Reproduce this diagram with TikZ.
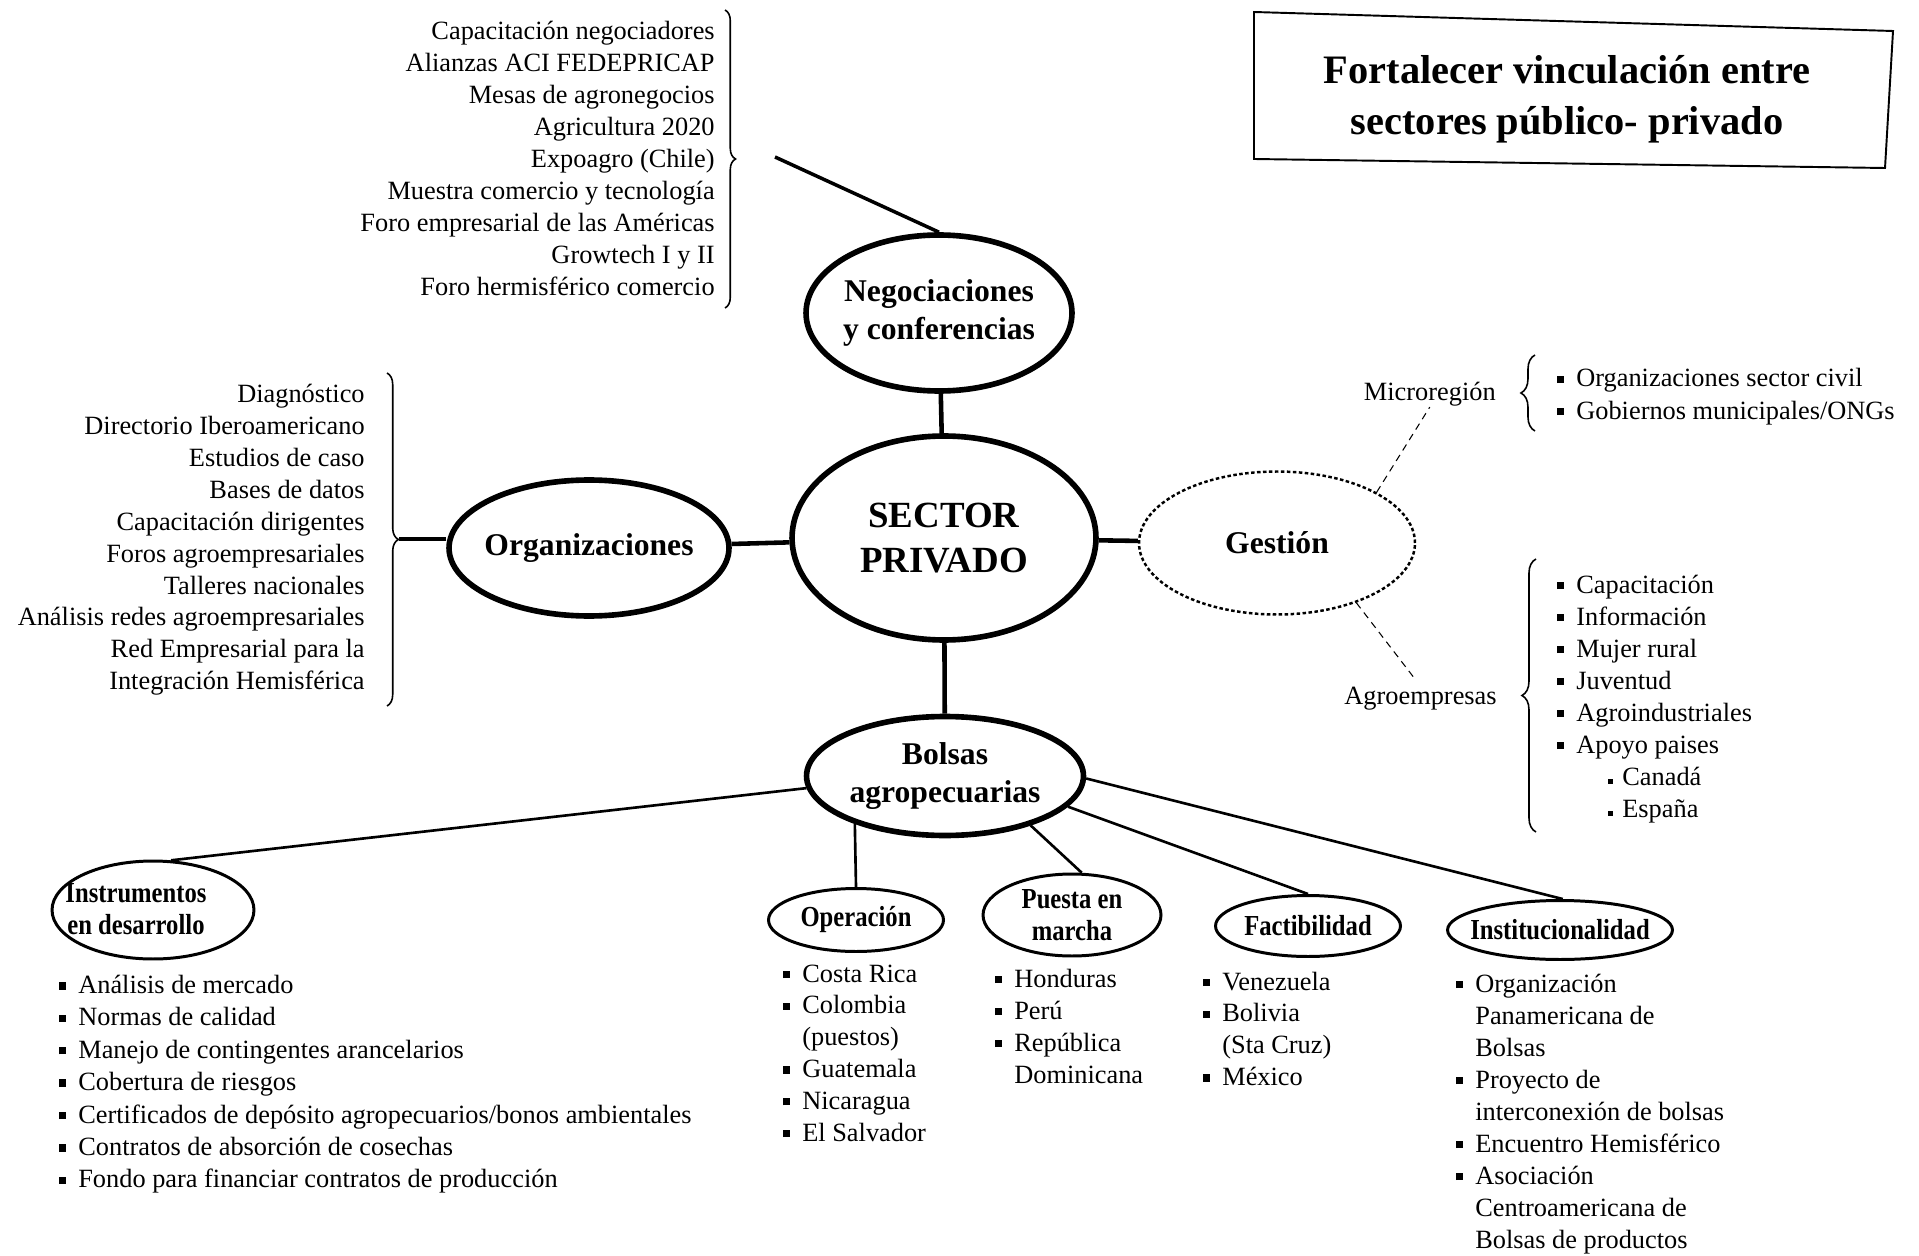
\documentclass[tikz,border=0pt]{standalone}
\usepackage{fontspec}
\setmainfont{Liberation Serif}
\newfontfamily\narrowfont[FakeStretch=0.85]{Liberation Serif}
\usetikzlibrary{shapes.geometric,decorations.pathreplacing}

\newcommand{\blt}{\makebox[10.8pt][l]{\rule[2.2pt]{3.6pt}{4.2pt}}}
\newcommand{\nob}{\hspace*{10.8pt}}
\newcommand{\sbl}{\hspace*{29pt}\makebox[8pt][l]{\rule[0.6pt]{2.4pt}{2.6pt}}}

\begin{document}
\begin{tikzpicture}[x=0.02cm,y=-0.02cm,
  bignode/.style={ellipse,draw,line width=3.2pt,inner sep=-6pt,align=center,
    font=\fontsize{18}{21.6}\selectfont\bfseries},
  subnode/.style={ellipse,draw,line width=1.7pt,inner sep=-8pt,align=center,
    font=\narrowfont\fontsize{16.5}{18.5}\selectfont\bfseries},
  link/.style={line width=2.6pt},
  sublink/.style={line width=1.5pt},
  item/.style={inner sep=0pt,anchor=base west,font=\fontsize{15}{18.2}\selectfont},
  ritem/.style={item,anchor=base east},
  brc/.style={decorate,decoration={brace,amplitude=#1},line width=0.9pt},
  brc/.default=6pt,
  dotline/.style={line width=0.6pt,dash pattern=on 4pt off 3pt}]
\useasboundingbox (0,0) rectangle (1919,1256);

% title
\draw[line width=1.1pt] (1254,12) -- (1893,31) -- (1885,168) -- (1254,159) -- cycle;
\node[align=center,inner sep=0pt,font=\fontsize{23}{29}\selectfont\bfseries] (title)
  at (1567,99) {Fortalecer vinculación entre\\sectores público- privado};

% main ellipses
\node[bignode,minimum width=6.08cm,minimum height=4.08cm,
  font=\fontsize{21}{25.6}\selectfont\bfseries] (sector) at (944,538) {SECTOR\\PRIVADO};
\node[bignode,minimum width=5.32cm,minimum height=3.12cm] (neg) at (939,313)
  {Negociaciones\\y conferencias};
\node[bignode,minimum width=5.6cm,minimum height=2.72cm] (org) at (589,548) {Organizaciones};
\node[bignode,minimum width=5.54cm,minimum height=2.38cm] (bolsas) at (945,776)
  {Bolsas\\agropecuarias};
\node[bignode,line width=1.4pt,dash pattern=on 2pt off 1.4pt,
  minimum width=5.52cm,minimum height=2.86cm] (gest) at (1277,543) {Gestión};

\draw[link] (neg) -- (sector);
\draw[link] (org) -- (sector);
\draw[link] (sector) -- (gest);
\draw[link] (sector) -- (bolsas);

% negociaciones
\foreach \txt [count=\i] in {Capacitación negociadores, Alianzas ACI FEDEPRICAP,
  Mesas de agronegocios, Agricultura 2020, Expoagro (Chile),
  Muestra comercio y tecnología, Foro empresarial de las Américas,
  Growtech I y II, Foro hermisférico comercio}
  \node[ritem] (neg-\i) at (715,8+32*\i) {\txt};
\coordinate (negtop) at (725,10);
\coordinate (negbot) at (725,308);
\draw[brc] (negtop) -- (negbot);
\coordinate (negend) at (775,157);
\draw[line width=2pt] (negend) -- (neg.north);

% organizaciones
\foreach \txt [count=\i] in {Diagnóstico, Directorio Iberoamericano, Estudios de caso,
  Bases de datos, Capacitación dirigentes, Foros agroempresariales,
  Talleres nacionales, Análisis redes agroempresariales,
  Red Empresarial para la, Integración Hemisférica}
  \node[ritem] (org-\i) at (365,371.15+31.85*\i) {\txt};
\coordinate (orgtop) at (387,373);
\coordinate (orgbot) at (387,706);
\draw[brc=6.5pt] (orgtop) -- (orgbot);
\coordinate (orgend) at (399,539);
\draw[link] (orgend) -- (orgend -| org.west);

% gestion
\node[item,anchor=base east] (micro) at (1496,401) {Microregión};
\node[item,anchor=base east] (agro) at (1497,704) {Agroempresas};
\draw[dotline] (gest.27) -- (micro.south);
\draw[dotline,shorten >=6pt] (gest.-37) -- (agro.north);
\coordinate (microtop) at (1535,355);
\coordinate (microbot) at (1535,431);
\draw[brc=8pt] (microbot) -- (microtop);
\coordinate (agrotop) at (1536,559);
\coordinate (agrobot) at (1536,832);
\draw[brc=8pt] (agrobot) -- (agrotop);
\foreach \txt [count=\i] in {{\blt Organizaciones sector civil},
  {\blt Gobiernos municipales/ONGs}}
  \node[item] (micro-\i) at (1557,355+32*\i) {\txt};
\foreach \txt [count=\i] in {{\blt Capacitación}, {\blt Información}, {\blt Mujer rural},
  {\blt Juventud}, {\blt Agroindustriales}, {\blt Apoyo paises}, {\sbl Canadá},
  {\sbl España}}
  \node[item] (agro-\i) at (1557,561+32*\i) {\txt};

% bolsas
\node[subnode,minimum width=4.04cm,minimum height=1.96cm] (instr) at (153,910) {};
\node[inner sep=0pt,align=center,font=\narrowfont\fontsize{16.5}{18.5}\selectfont\bfseries]
  (instrlbl) at (136,909) {Instrumentos\\en desarrollo};
\node[subnode,minimum width=3.5cm,minimum height=1.26cm] (oper) at (856,920) {Operación};
\node[subnode,minimum width=3.56cm,minimum height=1.64cm] (puesta) at (1072,915)
  {Puesta en\\marcha};
\node[subnode,minimum width=3.7cm,minimum height=1.22cm] (fact) at (1308,926) {Factibilidad};
\node[subnode,minimum width=4.5cm,minimum height=1.18cm] (inst) at (1560,930)
  {Institucionalidad};

\draw[sublink] (bolsas.185) -- (instr.70);
\draw[sublink] (bolsas.208) -- (oper.north);
\draw[sublink] (bolsas.-30) -- (puesta.77);
\draw[sublink] (bolsas.-14) -- (fact.north);
\draw[sublink] (bolsas.-1) -- (inst.85);

\foreach \txt [count=\i] in {{\blt Análisis de mercado}, {\blt Normas de calidad},
  {\blt Manejo de contingentes arancelarios}, {\blt Cobertura de riesgos},
  {\blt Certificados de depósito agropecuarios/bonos ambientales},
  {\blt Contratos de absorción de cosechas},
  {\blt Fondo para financiar contratos de producción}}
  \node[item] (instr-\i) at (59,961+32.4*\i) {\txt};
\foreach \txt [count=\i] in {{\blt Costa Rica}, {\blt Colombia}, {\nob (puestos)},
  {\blt Guatemala}, {\blt Nicaragua}, {\blt El Salvador}}
  \node[item] (oper-\i) at (783,950.2+31.8*\i) {\txt};
\foreach \txt [count=\i] in {{\blt Honduras}, {\blt Perú}, {\blt República},
  {\nob Dominicana}}
  \node[item] (puesta-\i) at (995,955+32*\i) {\txt};
\foreach \txt [count=\i] in {{\blt Venezuela}, {\blt Bolivia}, {\nob (Sta Cruz)},
  {\blt México}}
  \node[item] (fact-\i) at (1203,958.2+31.8*\i) {\txt};
\foreach \txt [count=\i] in {{\blt Organización}, {\nob Panamericana de}, {\nob Bolsas},
  {\blt Proyecto de}, {\nob interconexión de bolsas}, {\blt Encuentro Hemisférico},
  {\blt Asociación}, {\nob Centroamericana de}, {\nob Bolsas de productos}}
  \node[item] (inst-\i) at (1456,960+32*\i) {\txt};

\end{tikzpicture}
\end{document}
